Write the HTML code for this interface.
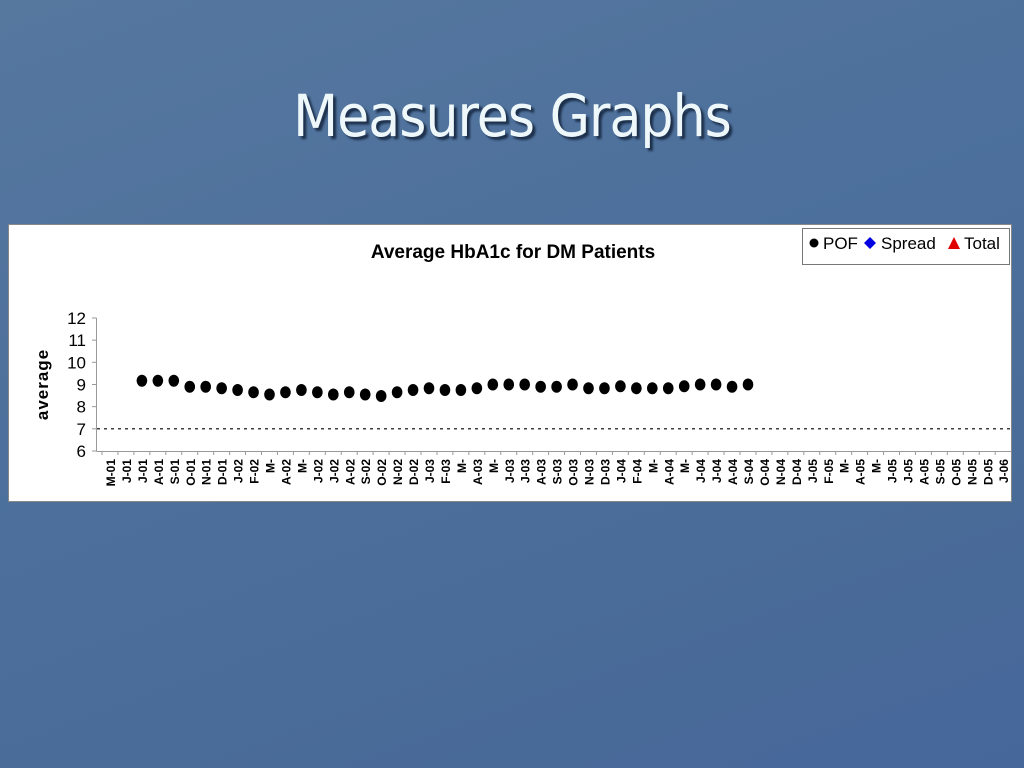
<!DOCTYPE html>
<html><head><meta charset="utf-8">
<style>
html,body{margin:0;padding:0}
body{width:1024px;height:768px;overflow:hidden;background:linear-gradient(160deg,#56789f 0%,#4d709c 40%,#4a6c98 70%,#46679a 100%);position:relative;font-family:"Liberation Sans",sans-serif}
#title{position:absolute;left:0;width:1024px;top:82px;text-align:center;font-size:58px;color:#eef8fb;text-shadow:3px 3px 2px #1c2f4a;font-family:"DejaVu Sans Condensed","Liberation Sans Narrow","Liberation Sans",sans-serif;letter-spacing:-1px}
#chart{position:absolute;left:8px;top:224px}
</style></head><body>
<div id="title">Measures Graphs</div>
<svg id="chart" width="1004" height="278"></svg>
<script>
const categories=["M-01","J-01","J-01","A-01","S-01","O-01","N-01","D-01","J-02","F-02","M-","A-02","M-","J-02","J-02","A-02","S-02","O-02","N-02","D-02","J-03","F-03","M-","A-03","M-","J-03","J-03","A-03","S-03","O-03","N-03","D-03","J-04","F-04","M-","A-04","M-","J-04","J-04","A-04","S-04","O-04","N-04","D-04","J-05","F-05","M-","A-05","M-","J-05","J-05","A-05","S-05","O-05","N-05","D-05","J-06"];
const pofValues=[null,null,9.17,9.17,9.17,8.9,8.9,8.83,8.75,8.65,8.55,8.65,8.75,8.65,8.55,8.65,8.55,8.48,8.65,8.75,8.83,8.75,8.75,8.83,9.0,9.0,9.0,8.9,8.9,9.0,8.83,8.83,8.92,8.83,8.83,8.83,8.92,9.0,9.0,8.9,9.0];
const yTicks=[6,7,8,9,10,11,12];
const targetValue=7;
const NS="http://www.w3.org/2000/svg";
const svg=document.getElementById('chart');
const OX=8,OY=224;
function mk(t,a,p){const e=document.createElementNS(NS,t);for(const k in a)e.setAttribute(k,a[k]);(p||svg).appendChild(e);return e;}
function x(i){return 110+i*15.95-OX;}
function y(v){return 451-(v-6)*22.17-OY;}
const bg=mk('rect',{x:0.5,y:0.5,width:1003,height:277,fill:'#fff',stroke:'#888'});


const t=mk('text',{x:505,y:34,'text-anchor':'middle','font-size':'19','font-weight':'bold',fill:'#000'});
t.textContent='Average HbA1c for DM Patients';


// legend
const lg=mk('g',{});


mk('rect',{x:794.5,y:4.5,width:207,height:36,fill:'#fff',stroke:'#777'},lg);
mk('circle',{cx:806,cy:19,r:4.5,fill:'#000'},lg);
const l1=mk('text',{x:815,y:25,'font-size':'17'},lg);l1.textContent='POF';
mk('path',{d:'M 862 13 L 868 19 L 862 25 L 856 19 Z',fill:'#0000e0'},lg);
const l2=mk('text',{x:873,y:25,'font-size':'17'},lg);l2.textContent='Spread';
mk('path',{d:'M 946 13 L 952 25 L 940 25 Z',fill:'#e00000'},lg);
const l3=mk('text',{x:956,y:25,'font-size':'17'},lg);l3.textContent='Total';
// axes
const ax=mk('g',{stroke:'#999','stroke-width':1});


mk('line',{x1:88.5,y1:y(12),x2:88.5,y2:y(6)},ax);
mk('line',{x1:88.5,y1:y(6)+0.5,x2:x(56)+8,y2:y(6)+0.5},ax);
yTicks.forEach(v=>{
 mk('line',{x1:84,y1:y(v),x2:88.5,y2:y(v)},ax);
 const tl=mk('text',{x:78,y:y(v)+6,'text-anchor':'end','font-size':'17',fill:'#000'});
 tl.textContent=v;
 
 
});
const yt=mk('text',{transform:`translate(40,${y(9)}) rotate(-90)`,'text-anchor':'middle','font-size':'17','font-weight':'bold','letter-spacing':'1'});
yt.textContent='average';


categories.forEach((c,i)=>{
 mk('line',{x1:x(i)-8,y1:y(6),x2:x(i)-8,y2:y(6)+4,stroke:'#999'});
 const cl=mk('text',{transform:`translate(${x(i)+5},${y(6)+8}) rotate(-90)`,'text-anchor':'end','font-size':'12','font-weight':'bold',fill:'#000'});
 cl.textContent=c;
 
 
});
const tgt=mk('line',{x1:89,y1:y(targetValue),x2:x(56)+8,y2:y(targetValue),stroke:'#000','stroke-width':1.2,'stroke-dasharray':'3,4'});


pofValues.forEach((v,i)=>{
 if(v==null)return;
 const d=mk('ellipse',{cx:x(i),cy:y(v),rx:5.3,ry:6,fill:'#000'});
 
 
});
</script>
</body></html>
